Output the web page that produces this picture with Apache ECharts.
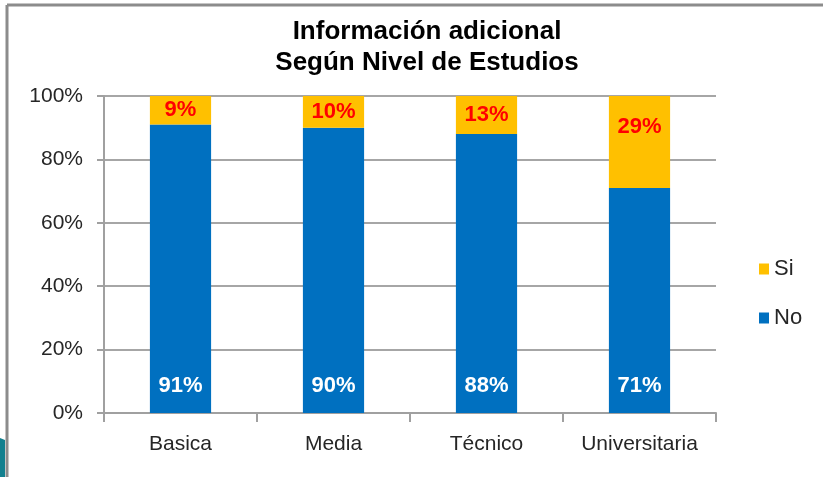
<!DOCTYPE html>
<html>
<head>
<meta charset="utf-8">
<script src="https://cdn.jsdelivr.net/npm/echarts@6/dist/echarts.min.js"></script>
<style>
  html, body { margin: 0; padding: 0; background: #fff; }
  #chart { width: 823px; height: 477px; }
</style>
</head>
<body>
<div id="chart"></div>
<script>
const categories = ["Basica", "Media", "Técnico", "Universitaria"];
const noValues = [91, 90, 88, 71];
const siValues = [9, 10, 13, 29];
const yTicks = { min: 0, max: 100, interval: 20 };

const FONT = '"Liberation Sans", Arial, sans-serif';
const chart = echarts.init(document.getElementById("chart"));

// Si labels sit mid-segment, except the tall one which Excel pushes toward the top
const siData = siValues.map((v, i) => {
  if (v > 20) {
    return { value: v, label: { position: "insideTop", distance: 20 } };
  }
  return v;
});

chart.setOption({
  animation: false,
  textStyle: { fontFamily: FONT },
  title: {
    text: "Información adicional\nSegún Nivel de Estudios",
    left: 422,
    top: 11,
    textAlign: "center",
    textStyle: { fontFamily: FONT, fontSize: 26, fontWeight: "bold", color: "#000", lineHeight: 31 },
  },
  legend: {
    data: ["Si", "No"],
    orient: "vertical",
    left: 754,
    top: 253,
    itemWidth: 10,
    itemHeight: 11,
    itemGap: 27,
    icon: "rect",
    textStyle: { fontFamily: FONT, fontSize: 22, color: "#262626" },
  },
  grid: { left: 104, right: 107, top: 96, bottom: 64 },
  xAxis: {
    type: "category",
    data: categories,
    axisLine: { lineStyle: { color: "#a0a0a0", width: 2 } },
    axisTick: { show: true, length: 9, lineStyle: { color: "#a0a0a0", width: 2 } },
    axisLabel: { fontFamily: FONT, fontSize: 21, color: "#262626", margin: 21, interval: 0 },
  },
  yAxis: {
    type: "value",
    min: yTicks.min,
    max: yTicks.max,
    interval: yTicks.interval,
    axisLine: { show: true, lineStyle: { color: "#a0a0a0", width: 2 } },
    axisTick: { show: true, length: 7, lineStyle: { color: "#a0a0a0", width: 2 } },
    axisLabel: { fontFamily: FONT, fontSize: 21, color: "#262626", margin: 21, formatter: "{value}%" },
    splitLine: { lineStyle: { color: "#a6a6a6", width: 2 } },
  },
  series: [
    {
      name: "No",
      type: "bar",
      stack: "total",
      barWidth: "40%",
      data: noValues,
      itemStyle: { color: "#0070C0" },
      label: {
        show: true,
        position: "insideBottom",
        distance: 16,
        formatter: "{c}%",
        fontFamily: FONT,
        fontSize: 22,
        fontWeight: "bold",
        color: "#fff",
      },
    },
    {
      name: "Si",
      type: "bar",
      stack: "total",
      barWidth: "40%",
      data: siData,
      itemStyle: { color: "#FFC000" },
      label: {
        show: true,
        position: "inside",
        formatter: "{c}%",
        fontFamily: FONT,
        fontSize: 22,
        fontWeight: "bold",
        color: "#FF0000",
      },
    },
  ],
  graphic: [
    // frame of the slide object
    { type: "line", shape: { x1: 7, y1: 5, x2: 823, y2: 5 }, style: { stroke: "#8c8c8c", lineWidth: 3 } },
    { type: "line", shape: { x1: 7, y1: 5, x2: 7, y2: 477 }, style: { stroke: "#8c8c8c", lineWidth: 3 } },
    // teal corner of the slide background
    {
      type: "polygon",
      shape: { points: [[0, 438], [5, 440], [5, 477], [0, 477]] },
      style: { fill: "#13808f" },
    },
  ],
});
</script>
</body>
</html>
